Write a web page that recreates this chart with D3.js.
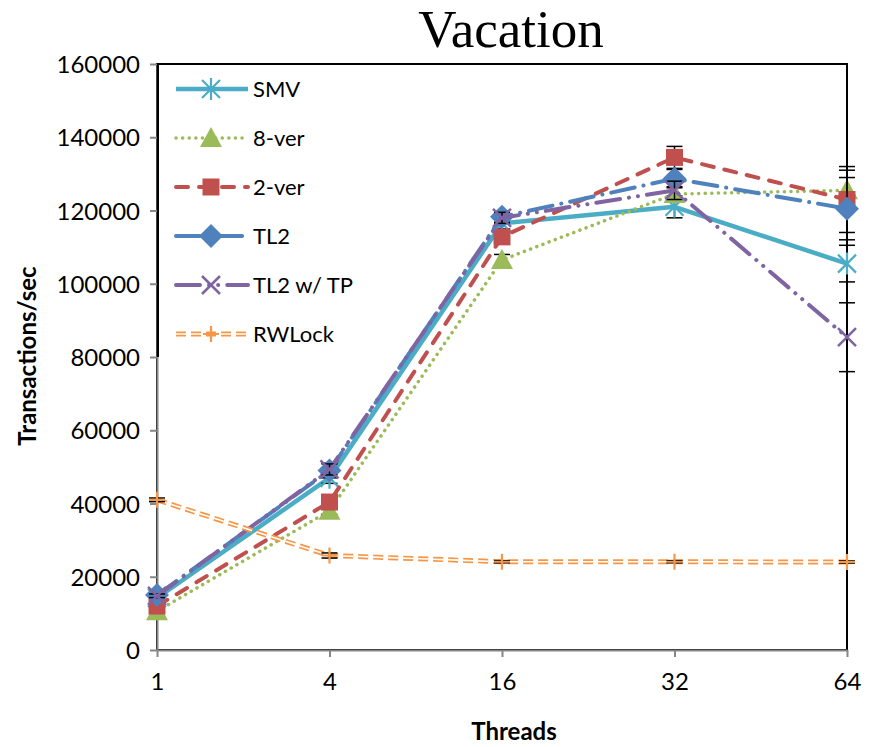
<!DOCTYPE html>
<html>
<head>
<meta charset="utf-8">
<script src="https://cdn.jsdelivr.net/npm/d3@7"></script>
<style>
  body { margin: 0; background: #fff; }
  text { font-family: Lato, "Open Sans", sans-serif; fill: #000; }
</style>
</head>
<body>
<div id="chart"></div>
<script>
// data
var threads = ["1", "4", "16", "32", "64"];
var yTicks = [0, 20000, 40000, 60000, 80000, 100000, 120000, 140000, 160000];

var smv    = [14200, 47000, 116500, 121000, 105500];
var ver8   = [10600, 38000, 106500, 124500, 125500];
var ver2   = [12000, 40400, 112800, 134500, 123000];
var tl2    = [15000, 49000, 118300, 128700, 120500];
var tl2tp  = [14800, 49300, 118000, 125500, 85400];
var rwlock = [41000, 25800, 24100, 24100, 24000];

var smvErr    = [500, 1500, 1500, 3000, 5000];
var ver8Err   = [500, 1000, 1500, 2000, 5500];
var ver2Err   = [500, 1000, 1500, 3000, 9000];
var tl2Err    = [500, 2000, 1500, 2500, 8500];
var tl2tpErr  = [500, 1500, 1500, 2500, 9400];
var rwlockErr = [500, 700, 300, 300, 300];

var width = 874, height = 747;
var plotL = 157, plotR = 847, plotT = 64, plotB = 650;

var svg = d3.select("#chart").append("svg")
    .attr("width", width)
    .attr("height", height);

var x = d3.scalePoint().domain(threads).range([plotL, plotR]);
var y = d3.scaleLinear().domain([0, 160000]).range([plotB, plotT]);

var series = [
  {name: "SMV", values: smv, err: smvErr, color: "#4BACC6", dash: null, w: 4.5, marker: "star"},
  {name: "8-ver", values: ver8, err: ver8Err, color: "#9BBB59", dash: "0.1,6.5", w: 3.5, marker: "tri"},
  {name: "2-ver", values: ver2, err: ver2Err, color: "#C0504D", dash: "12,11", w: 4, marker: "square"},
  {name: "TL2", values: tl2, err: tl2Err, color: "#4F81BD", dash: "24,9,0.1,9", w: 4, marker: "diamond"},
  {name: "TL2 w/ TP", values: tl2tp, err: tl2tpErr, color: "#8064A2", dash: "24,9,0.1,9,0.1,9", w: 4, marker: "x"},
  {name: "RWLock", values: rwlock, err: rwlockErr, color: "#F79646", dash: "10,5", w: 5, marker: "plus", dbl: true}
];

// plot frame
svg.append("rect")
    .attr("x", plotL).attr("y", plotT)
    .attr("width", plotR - plotL).attr("height", plotB - plotT)
    .attr("fill", "none").attr("stroke", "#000").attr("stroke-width", 2);

// axes
var yAxis = d3.axisLeft(y).tickValues(yTicks).tickFormat(d3.format("d"))
    .tickSize(7).tickSizeOuter(0).tickPadding(10);
var xAxis = d3.axisBottom(x).tickSize(7).tickSizeOuter(0).tickPadding(16);

var gy = svg.append("g").attr("transform", "translate(" + plotL + ",0)").call(yAxis);
var gx = svg.append("g").attr("transform", "translate(0," + plotB + ")").call(xAxis);
[gy, gx].forEach(function(g) {
  g.selectAll("path, line").attr("stroke", "#868686").attr("stroke-width", 2);
  g.selectAll("text").style("font-size", "24px").attr("fill", "#000");
});
gy.selectAll("text").attr("dy", "0.36em");
gx.selectAll("text").attr("dy", "0.71em");

var line = d3.line()
    .x(function(d, i) { return x(threads[i]); })
    .y(function(d) { return y(d); });

function drawMarker(g, type, color, cx, cy) {
  var p = g.append("g").attr("transform", "translate(" + cx + "," + cy + ")");
  if (type === "star") {
    p.append("path").attr("d", "M-9,-9L9,9M-9,9L9,-9M0,-11L0,11")
      .attr("stroke", color).attr("stroke-width", 2.2).attr("fill", "none");
  } else if (type === "tri") {
    p.append("path").attr("d", "M0,-11L11,9L-11,9Z").attr("fill", color);
  } else if (type === "square") {
    p.append("rect").attr("x", -8.5).attr("y", -8.5).attr("width", 17).attr("height", 17).attr("fill", color);
  } else if (type === "diamond") {
    p.append("path").attr("d", "M0,-12L12,0L0,12L-12,0Z").attr("fill", color);
  } else if (type === "x") {
    p.append("path").attr("d", "M-9,-9L9,9M-9,9L9,-9")
      .attr("stroke", color).attr("stroke-width", 2.5).attr("fill", "none");
  } else if (type === "plus") {
    p.append("path").attr("d", "M-8,0L8,0M0,-8L0,8")
      .attr("stroke", color).attr("stroke-width", 2.2).attr("fill", "none");
  }
}

function drawLine(g, s, d) {
  var path = g.append("path").attr("d", d).attr("fill", "none")
      .attr("stroke", s.color).attr("stroke-width", s.w)
      .attr("stroke-linecap", s.dash ? "round" : "butt")
      .attr("stroke-linejoin", "round");
  if (s.dash) path.attr("stroke-dasharray", s.dash);
  if (s.dbl) {
    path.attr("stroke-linecap", "butt");
    g.append("path").attr("d", d).attr("fill", "none")
      .attr("stroke", "#fff").attr("stroke-width", 1.6)
      .attr("stroke-dasharray", s.dash);
  }
}

var plot = svg.append("g");
series.forEach(function(s) {
  var g = plot.append("g");
  drawLine(g, s, line(s.values));
  // error bars
  s.values.forEach(function(v, i) {
    var cx = x(threads[i]);
    var y1 = y(v + s.err[i]), y0 = y(v - s.err[i]);
    g.append("line").attr("x1", cx).attr("x2", cx).attr("y1", y1).attr("y2", y0)
      .attr("stroke", "#000").attr("stroke-width", 1.5);
    [y1, y0].forEach(function(yy) {
      g.append("line").attr("x1", cx - 8).attr("x2", cx + 8).attr("y1", yy).attr("y2", yy)
        .attr("stroke", "#000").attr("stroke-width", 1.5);
    });
  });
  s.values.forEach(function(v, i) {
    drawMarker(g, s.marker, s.color, x(threads[i]), y(v));
  });
});

// legend
var legend = svg.append("g");
legend.append("rect").attr("x", 158).attr("y", 65).attr("width", 210).attr("height", 292)
    .attr("fill", "#fff").attr("stroke", "none");
legend.append("line").attr("x1", 158).attr("x2", 158).attr("y1", 64).attr("y2", 357)
    .attr("stroke", "#000").attr("stroke-width", 2);
series.forEach(function(s, i) {
  var ly = 89 + i * 49;
  var g = legend.append("g");
  drawLine(g, s, "M176," + ly + "L248," + ly);
  drawMarker(g, s.marker, s.color, 211, ly);
  g.append("text").attr("x", 253).attr("y", ly).attr("dy", "0.36em")
    .style("font-size", "22px").text(s.name);
});

// titles
svg.append("text").attr("x", 511).attr("y", 47).attr("text-anchor", "middle")
    .style("font-family", "'Liberation Serif', serif").style("font-size", "53px")
    .text("Vacation");

svg.append("text").attr("x", 514).attr("y", 740).attr("text-anchor", "middle")
    .style("font-size", "24px").style("font-weight", "bold")
    .text("Threads");

svg.append("text").attr("transform", "translate(36,356) rotate(-90)")
    .attr("text-anchor", "middle")
    .style("font-size", "24px").style("font-weight", "bold")
    .text("Transactions/sec");
</script>
</body>
</html>
